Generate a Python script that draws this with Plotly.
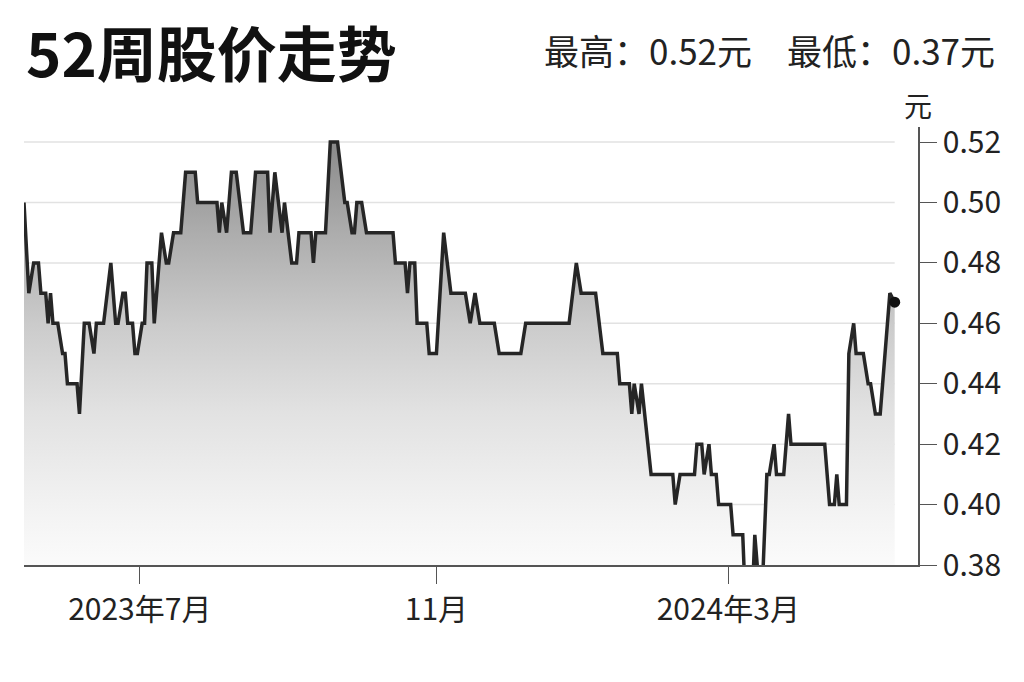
import plotly.graph_objects as go

# ---------- Data ----------

dates = [
    "2023-05-14", "2023-05-16", "2023-05-18", "2023-05-20", "2023-05-21", "2023-05-23",
    "2023-05-24", "2023-05-25", "2023-05-26", "2023-05-28", "2023-05-30", "2023-05-31",
    "2023-06-01", "2023-06-05", "2023-06-06", "2023-06-08", "2023-06-10", "2023-06-12",
    "2023-06-13", "2023-06-16", "2023-06-19", "2023-06-21", "2023-06-22", "2023-06-24",
    "2023-06-25", "2023-06-26", "2023-06-28", "2023-06-29", "2023-06-30",
    "2023-07-02", "2023-07-03", "2023-07-04", "2023-07-06", "2023-07-07", "2023-07-10",
    "2023-07-12", "2023-07-13", "2023-07-15", "2023-07-18", "2023-07-20", "2023-07-24",
    "2023-07-25",
    "2023-08-02", "2023-08-03", "2023-08-04", "2023-08-06", "2023-08-08", "2023-08-10",
    "2023-08-13", "2023-08-16", "2023-08-18", "2023-08-23", "2023-08-24", "2023-08-26",
    "2023-08-29", "2023-08-30",
    "2023-09-02", "2023-09-04", "2023-09-05", "2023-09-10", "2023-09-11", "2023-09-12",
    "2023-09-16", "2023-09-18", "2023-09-21", "2023-09-24", "2023-09-25", "2023-09-27",
    "2023-09-28", "2023-09-29",
    "2023-10-01", "2023-10-03", "2023-10-14", "2023-10-15", "2023-10-19", "2023-10-20",
    "2023-10-21", "2023-10-23", "2023-10-24", "2023-10-28", "2023-10-29",
    "2023-11-01", "2023-11-04", "2023-11-07", "2023-11-13", "2023-11-15", "2023-11-17",
    "2023-11-19", "2023-11-25", "2023-11-27",
    "2023-12-06", "2023-12-08", "2023-12-26", "2023-12-29", "2023-12-31",
    "2024-01-06", "2024-01-09", "2024-01-15", "2024-01-16", "2024-01-20", "2024-01-21",
    "2024-01-22", "2024-01-24", "2024-01-25", "2024-01-29",
    "2024-02-07", "2024-02-08", "2024-02-10", "2024-02-16", "2024-02-17", "2024-02-19",
    "2024-02-20", "2024-02-22", "2024-02-23", "2024-02-25", "2024-02-26",
    "2024-03-02", "2024-03-03", "2024-03-07", "2024-03-08", "2024-03-11", "2024-03-12",
    "2024-03-14", "2024-03-15", "2024-03-17", "2024-03-18", "2024-03-20", "2024-03-21",
    "2024-03-24", "2024-03-26", "2024-03-27",
    "2024-04-10", "2024-04-12", "2024-04-14", "2024-04-15", "2024-04-16", "2024-04-19",
    "2024-04-20", "2024-04-22", "2024-04-23", "2024-04-26", "2024-04-28", "2024-04-29",
    "2024-05-01",
    "2024-05-03", "2024-05-05", "2024-05-07", "2024-05-09",
]

prices = [
    0.50, 0.47, 0.48, 0.48, 0.47, 0.47,
    0.46, 0.47, 0.46, 0.46, 0.45, 0.45,
    0.44, 0.44, 0.43, 0.46, 0.46, 0.45,
    0.46, 0.46, 0.48, 0.46, 0.46, 0.47,
    0.47, 0.46, 0.46, 0.45, 0.45,
    0.46, 0.46, 0.48, 0.48, 0.46, 0.49,
    0.48, 0.48, 0.49, 0.49, 0.51, 0.51,
    0.50,
    0.50, 0.49, 0.50, 0.49, 0.51, 0.51,
    0.49, 0.49, 0.51, 0.51, 0.49, 0.51,
    0.49, 0.50,
    0.48, 0.48, 0.49, 0.49, 0.48, 0.49,
    0.49, 0.52, 0.52, 0.50, 0.50, 0.49,
    0.49, 0.50,
    0.50, 0.49, 0.49, 0.48, 0.48, 0.47,
    0.48, 0.48, 0.46, 0.46, 0.45,
    0.45, 0.49, 0.47, 0.47, 0.46, 0.47,
    0.46, 0.46, 0.45,
    0.45, 0.46, 0.46, 0.48, 0.47,
    0.47, 0.45, 0.45, 0.44, 0.44, 0.43,
    0.44, 0.43, 0.44, 0.41,
    0.41, 0.40, 0.41, 0.41, 0.42, 0.42,
    0.41, 0.42, 0.41, 0.41, 0.40,
    0.40, 0.39, 0.39, 0.37, 0.37, 0.39,
    0.37, 0.37, 0.41, 0.41, 0.42, 0.41,
    0.41, 0.43, 0.42,
    0.42, 0.40, 0.40, 0.41, 0.40, 0.40,
    0.45, 0.46, 0.45, 0.45, 0.44, 0.44,
    0.43,
    0.43, 0.45, 0.47, 0.467,
]

y_ticks = [0.38, 0.40, 0.42, 0.44, 0.46, 0.48, 0.50, 0.52]
x_tickvals = ["2023-07-01", "2023-11-01", "2024-03-01"]
x_ticktext = ["2023年7月", "11月", "2024年3月"]

title_text = "52周股价走势"
summary_text = "最高：0.52元　最低：0.37元"
unit_text = "元"

FONT = "Noto Sans CJK SC"

# ---------- Plotting ----------

fig = go.Figure()

fig.add_trace(go.Scatter(
    x=dates, y=prices,
    mode="lines",
    line=dict(color="#262626", width=3.5),
    fill="tozeroy",
    fillgradient=dict(
        type="vertical",
        start=0.38, stop=0.52,
        colorscale=[[0, "#fbfbfb"], [0.14, "#f2f2f2"], [0.36, "#e2e2e2"],
                    [0.57, "#cbcbcb"], [0.79, "#acacac"], [1, "#8a8a8a"]],
    ),
    showlegend=False,
    hoverinfo="x+y",
))

fig.add_trace(go.Scatter(
    x=[dates[-1]], y=[prices[-1]],
    mode="markers",
    marker=dict(color="#111111", size=11),
    showlegend=False,
    cliponaxis=False,
))

# gridlines only span the data, not the padding before the axis
for v in y_ticks[1:]:
    fig.add_shape(type="line", xref="x", yref="y",
                  x0=dates[0], x1=dates[-1], y0=v, y1=v,
                  line=dict(color="#e2e2e2", width=1.5), layer="below")

fig.add_annotation(text=f"<b>{title_text}</b>", xref="paper", yref="paper",
                   x=0, y=1.175, xanchor="left", yanchor="middle", showarrow=False,
                   font=dict(family=FONT, size=60, color="#111111", weight=900))
fig.add_annotation(text=summary_text, xref="paper", yref="paper",
                   x=1.0884, y=1.178, xanchor="right", yanchor="middle", showarrow=False,
                   font=dict(family=FONT, size=35, color="#222222"))
fig.add_annotation(text=unit_text, xref="paper", yref="paper",
                   x=1.0, y=1.0, xanchor="center", yanchor="bottom", yshift=0,
                   showarrow=False, font=dict(family=FONT, size=28, color="#222222"))

# the page puts the figure 8px in from the top-left, margins compensate for it
fig.update_layout(
    width=1024, height=682,
    margin=dict(l=16, r=114, t=119, b=125),
    paper_bgcolor="white",
    plot_bgcolor="white",
    font=dict(family=FONT, size=30, color="#222222"),
    xaxis=dict(
        type="date",
        range=["2023-05-14", "2024-05-18 16:00"],
        showgrid=False, zeroline=False,
        showline=True, linecolor="#555555", linewidth=1.5,
        ticks="outside", ticklen=17, tickwidth=1.2, tickcolor="#555555",
        tickvals=x_tickvals, ticktext=x_ticktext,
        tickfont=dict(family=FONT, size=30, color="#222222"),
        fixedrange=True,
    ),
    yaxis=dict(
        side="right",
        range=[0.38, 0.525],
        showgrid=False, zeroline=False,
        showline=True, linecolor="#555555", linewidth=1.5,
        ticks="outside", ticklen=17, tickwidth=1.2, tickcolor="#555555",
        tickvals=y_ticks, tickformat=".2f",
        tickfont=dict(family=FONT, size=30, color="#222222"),
        fixedrange=True,
    ),
)

fig.write_html("out.html")
